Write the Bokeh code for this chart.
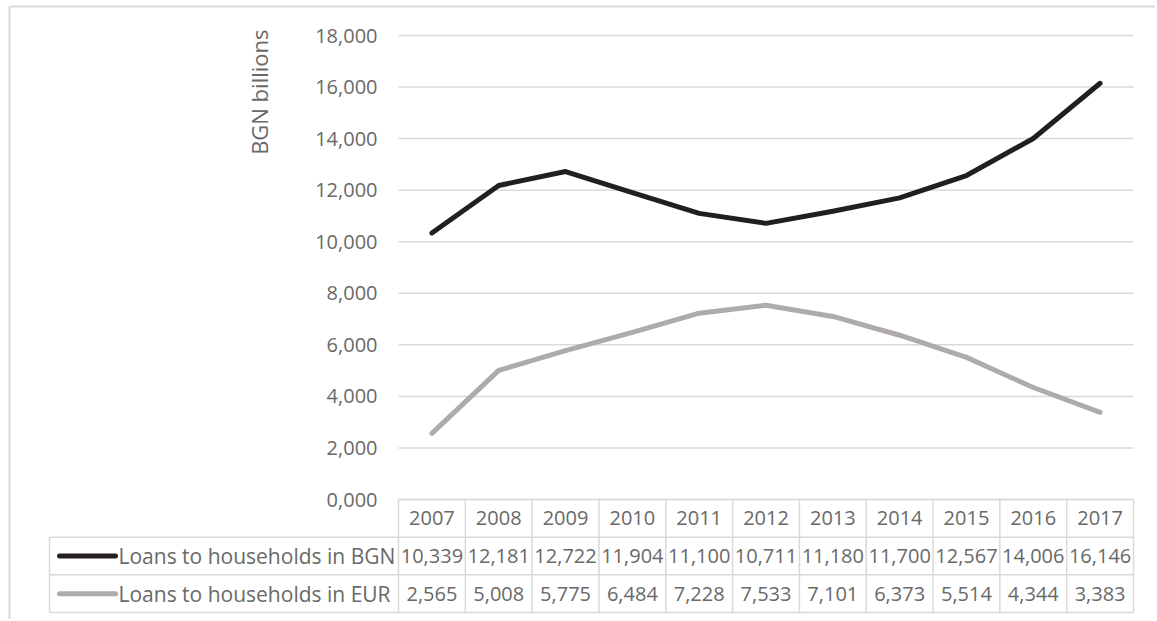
import numpy as np
from bokeh.plotting import figure
from bokeh.models import Range1d
from bokeh.embed import file_html
from bokeh.resources import INLINE
from bokeh.core.properties import value

# ---------------- data ----------------
years = [2007, 2008, 2009, 2010, 2011, 2012, 2013, 2014, 2015, 2016, 2017]
loans_bgn = [10.339, 12.181, 12.722, 11.904, 11.100, 10.711, 11.180, 11.700, 12.567, 14.006, 16.146]
loans_eur = [2.565, 5.008, 5.775, 6.484, 7.228, 7.533, 7.101, 6.373, 5.514, 4.344, 3.383]
series_names = ["Loans to households in BGN", "Loans to households in EUR"]
y_ticks = [0, 2, 4, 6, 8, 10, 12, 14, 16, 18]
y_title = "BGN billions"

# ---------------- style ----------------
FONT = "Open Sans"
FS = "20px"
FS_LEGEND = "21px"
FS_TITLE = "22px"
TEXT_COLOR = "#696969"
GRID = "#d9d9d9"
COLORS = ["#231f20", "#afabab"]

# ---------------- layout (canvas px) ----------------
W, H = 1155, 619
PLOT_L, PLOT_R = 398, 1133      # plot area / year columns
PLOT_T, PLOT_B = 35, 499        # 18 and 0 on the value axis
TABLE_L = 49                    # left edge of the legend column
TABLE_B = 612                   # bottom of the data table
BORDER_X, BORDER_Y = 9, 6       # outer chart border

x0, x1 = years[0] - 0.5, years[-1] + 0.5
unit_x = (PLOT_R - PLOT_L) / (x1 - x0)
y0, y1 = y_ticks[0], y_ticks[-1]
unit_y = (PLOT_B - PLOT_T) / (y1 - y0)

def dx(px):
    return x0 + (px - PLOT_L) / unit_x

def dy(py):
    return y1 - (py - PLOT_T) / unit_y

fmt = lambda v: f"{v:.3f}".replace(".", ",")

p = figure(width=W, height=H, x_range=Range1d(dx(0), dx(W)), y_range=Range1d(dy(H), dy(0)),
           output_backend="svg", toolbar_location=None,
           min_border_left=0, min_border_right=0, min_border_top=0, min_border_bottom=0)
p.axis.visible = False
p.grid.visible = False
p.outline_line_color = None
p.background_fill_color = "white"
p.border_fill_color = "white"

txt = dict(text_font=value(FONT), text_color=TEXT_COLOR)

# outer chart border (top and left)
p.segment(x0=[dx(BORDER_X), dx(BORDER_X)], x1=[dx(W), dx(BORDER_X)],
          y0=[dy(BORDER_Y), dy(BORDER_Y)], y1=[dy(BORDER_Y), dy(H)],
          line_color=GRID, line_width=2)

# value gridlines and tick labels
p.segment(x0=[x0] * len(y_ticks), x1=[x1] * len(y_ticks), y0=y_ticks, y1=y_ticks,
          line_color=GRID, line_width=1.5)
p.text(x=[dx(377)] * len(y_ticks), y=y_ticks, text=[fmt(t) for t in y_ticks],
       text_align="right", text_baseline="middle", text_font_size=value(FS), **txt)
p.text(x=[dx(258)], y=[dy(29)], text=[y_title], angle=np.pi / 2,
       text_align="right", text_baseline="middle", text_font_size=value(FS_TITLE), **txt)

# series
for vals, c in zip([loans_bgn, loans_eur], COLORS):
    p.line(years, vals, line_color=c, line_width=5, line_join="round", line_cap="round")

# ---------------- data table ----------------
n_rows = 3
row_h = (dy(PLOT_B) - dy(TABLE_B)) / n_rows
rows_y = [y0 - k * row_h for k in range(n_rows + 1)]
xl = dx(TABLE_L)
hx0 = [x0] + [xl] * n_rows
hx1 = [x1] * (n_rows + 1)
p.segment(x0=hx0, x1=hx1, y0=rows_y, y1=rows_y, line_color=GRID, line_width=1.5)
vx = [x0 + k for k in range(len(years) + 1)] + [xl]
vy0 = [rows_y[0]] * (len(years) + 1) + [rows_y[1]]
vy1 = [rows_y[-1]] * (len(years) + 2)
p.segment(x0=vx, x1=vx, y0=vy0, y1=vy1, line_color=GRID, line_width=1.5)

p.text(x=years, y=[rows_y[0] - row_h / 2] * len(years), text=[str(y) for y in years],
       text_align="center", text_baseline="middle", text_font_size=value(FS), **txt)
for i, (vals, name, c) in enumerate(zip([loans_bgn, loans_eur], series_names, COLORS)):
    yy = rows_y[i + 1] - row_h / 2
    p.text(x=years, y=[yy] * len(years), text=[fmt(v) for v in vals],
           text_align="center", text_baseline="middle", text_font_size=value(FS), **txt)
    p.segment(x0=[dx(TABLE_L + 10)], x1=[dx(TABLE_L + 66)], y0=[yy], y1=[yy],
              line_color=c, line_width=5, line_cap="round")
    p.text(x=[dx(TABLE_L + 69)], y=[yy], text=[name],
           text_align="left", text_baseline="middle", text_font_size=value(FS_LEGEND), **txt)

open("out.html", "w").write(file_html(p, INLINE))
